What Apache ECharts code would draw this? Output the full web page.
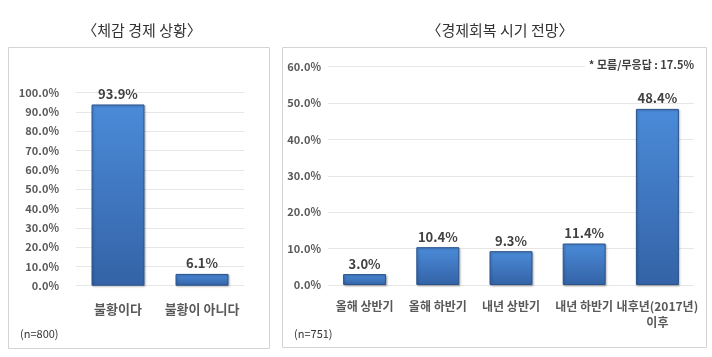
<!DOCTYPE html>
<html><head><meta charset="utf-8">
<script src="https://cdn.jsdelivr.net/npm/echarts@6/dist/echarts.min.js"></script>
<style>html,body{margin:0;padding:0;background:#fff}#c{width:712px;height:357px}</style>
</head><body><div id="c"></div>
<script>
const leftTitle = '〈체감 경제 상황〉';
const rightTitle = '〈경제회복 시기 전망〉';
const leftCategories = ['불황이다', '불황이 아니다'];
const leftValues = [93.9, 6.1];
const rightCategories = ['올해 상반기', '올해 하반기', '내년 상반기', '내년 하반기', '내후년(2017년)\n이후'];
const rightValues = [3.0, 10.4, 9.3, 11.4, 48.4];
const leftNote = '(n=800)';
const rightNote = '(n=751)';
const rightFootnote = '* 모름/무응답 : 17.5%';

const FONT = '"Noto Sans CJK KR", "Noto Sans", sans-serif';
const barColor = {
  type: 'linear', x: 0, y: 0, x2: 0, y2: 1,
  colorStops: [{offset: 0, color: '#4b8bd9'}, {offset: 1, color: '#3463a6'}]
};
const chart = echarts.init(document.getElementById('c'), null, {renderer: 'canvas'});
const pct = v => v.toFixed(1) + '%';
const axisLabelY = {formatter: pct, color: '#595959', fontWeight: 'bold', fontSize: 11, fontFamily: FONT, margin: 17};
const splitLine = {show: true, lineStyle: {color: '#e6e6e6', width: 1}};
const xLabel = {color: '#595959', fontWeight: 'bold', fontFamily: FONT, interval: 0, lineHeight: 16};
const valueLabel = {show: true, position: 'top', distance: 4, formatter: p => pct(p.value), color: '#404040', fontWeight: 'bold', fontSize: 13, fontFamily: FONT};
const itemStyle = {color: barColor, borderColor: '#2b548f', borderWidth: 1, shadowColor: 'rgba(0,0,0,0.25)', shadowBlur: 2, shadowOffsetX: 1, shadowOffsetY: 1};

chart.setOption({
  animation: false,
  title: [
    {text: leftTitle, left: 137, top: 18, textAlign: 'center', textStyle: {fontFamily: FONT, fontSize: 15, fontWeight: 'normal', color: '#333'}},
    {text: rightTitle, left: 495, top: 18, textAlign: 'center', textStyle: {fontFamily: FONT, fontSize: 15, fontWeight: 'normal', color: '#333'}}
  ],
  graphic: [
    {type: 'rect', shape: {x: 8.5, y: 47.5, width: 261, height: 301}, style: {fill: 'none', stroke: '#d4d4d4', lineWidth: 1}, z: -1},
    {type: 'rect', shape: {x: 282.5, y: 47.5, width: 424, height: 300}, style: {fill: 'none', stroke: '#d4d4d4', lineWidth: 1}, z: -1},
    {type: 'text', left: 20, top: 328, style: {text: leftNote, font: '11px ' + FONT, fill: '#333'}},
    {type: 'text', left: 294, top: 328, style: {text: rightNote, font: '11px ' + FONT, fill: '#333'}},
    {type: 'text', right: 18, top: 59, z: 100, style: {text: rightFootnote, font: 'bold 11px ' + FONT, fill: '#404040', backgroundColor: '#fff', padding: [0, 0, 0, 4]}}
  ],
  grid: [
    {left: 76, width: 168, top: 92.7, height: 193},
    {left: 328, width: 366, top: 66.7, height: 218.3}
  ],
  xAxis: [
    {type: 'category', gridIndex: 0, data: leftCategories, axisLine: {show: false}, axisTick: {show: false}, axisLabel: Object.assign({}, xLabel, {fontSize: 13, margin: 15})},
    {type: 'category', gridIndex: 1, data: rightCategories, axisLine: {show: false}, axisTick: {show: false}, axisLabel: Object.assign({}, xLabel, {fontSize: 12, margin: 13})}
  ],
  yAxis: [
    {type: 'value', gridIndex: 0, min: 0, max: 100, interval: 10, axisLabel: axisLabelY, splitLine, axisLine: {show: false}, axisTick: {show: false}},
    {type: 'value', gridIndex: 1, min: 0, max: 60, interval: 10, axisLabel: Object.assign({}, axisLabelY, {margin: 7}), splitLine, axisLine: {show: false}, axisTick: {show: false}}
  ],
  series: [
    {type: 'bar', xAxisIndex: 0, yAxisIndex: 0, data: leftValues, barWidth: 53, itemStyle, label: valueLabel},
    {type: 'bar', xAxisIndex: 1, yAxisIndex: 1, data: rightValues, barWidth: 43, itemStyle, label: valueLabel}
  ]
});
</script></body></html>
